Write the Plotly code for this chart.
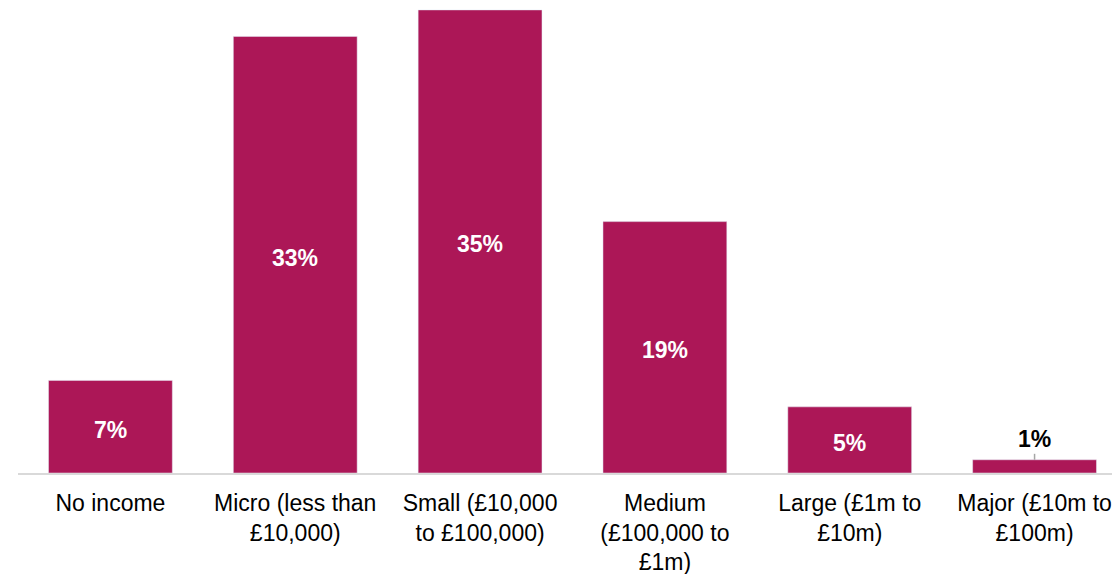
import plotly.graph_objects as go

# Share of organisations by income band
categories = [
    "No income",
    "Micro (less than<br>£10,000)",
    "Small (£10,000<br>to £100,000)",
    "Medium<br>(£100,000 to<br>£1m)",
    "Large (£1m to<br>£10m)",
    "Major (£10m to<br>£100m)",
]
shares = [7, 33, 35, 19, 5, 1]

BAR_COLOR = "#AC1757"
FONT = "Arial, Liberation Sans, sans-serif"

fig = go.Figure(
    go.Bar(
        x=list(range(len(categories))),
        y=shares,
        marker_color=BAR_COLOR,
        hoverinfo="skip",
    )
)

# value labels: inside (white) for tall bars, above with a leader for tiny ones
INSIDE_MIN = 3
for i, v in enumerate(shares):
    if v >= INSIDE_MIN:
        fig.add_annotation(
            x=i, y=v / 2, text=f"<b>{v}%</b>", showarrow=False,
            font=dict(family=FONT, size=23, color="white"),
            yshift=-3,
        )
    else:
        fig.add_annotation(
            x=i, y=v, text=f"<b>{v}%</b>", showarrow=False,
            font=dict(family=FONT, size=23, color="#000000"),
            yshift=21,
        )
        fig.add_shape(
            type="line", x0=i, x1=i, y0=v, y1=v + 0.45,
            line=dict(color="#a6a6a6", width=1.5),
        )

fig.update_layout(
    width=1112,
    height=574,
    margin=dict(l=17.5, r=0, t=0, b=100.5, autoexpand=False),
    paper_bgcolor="white",
    plot_bgcolor="white",
    bargap=0.33,
    showlegend=False,
    font=dict(family=FONT, size=23, color="#000000"),
    xaxis=dict(
        range=[-0.5, 5.419],
        tickvals=list(range(len(categories))),
        ticktext=categories,
        tickfont=dict(family=FONT, size=23, color="#000000"),
        ticklabelstandoff=8,
        automargin=False,
        showline=True,
        linecolor="#d9d9d9",
        linewidth=2,
        showgrid=False,
        zeroline=False,
        ticks="",
        tickangle=0,
        ticklabeloverflow="allow",
    ),
    yaxis=dict(
        range=[0, 35.75],
        visible=False,
        showgrid=False,
        zeroline=False,
        automargin=False,
    ),
)

fig.write_html("out.html")
